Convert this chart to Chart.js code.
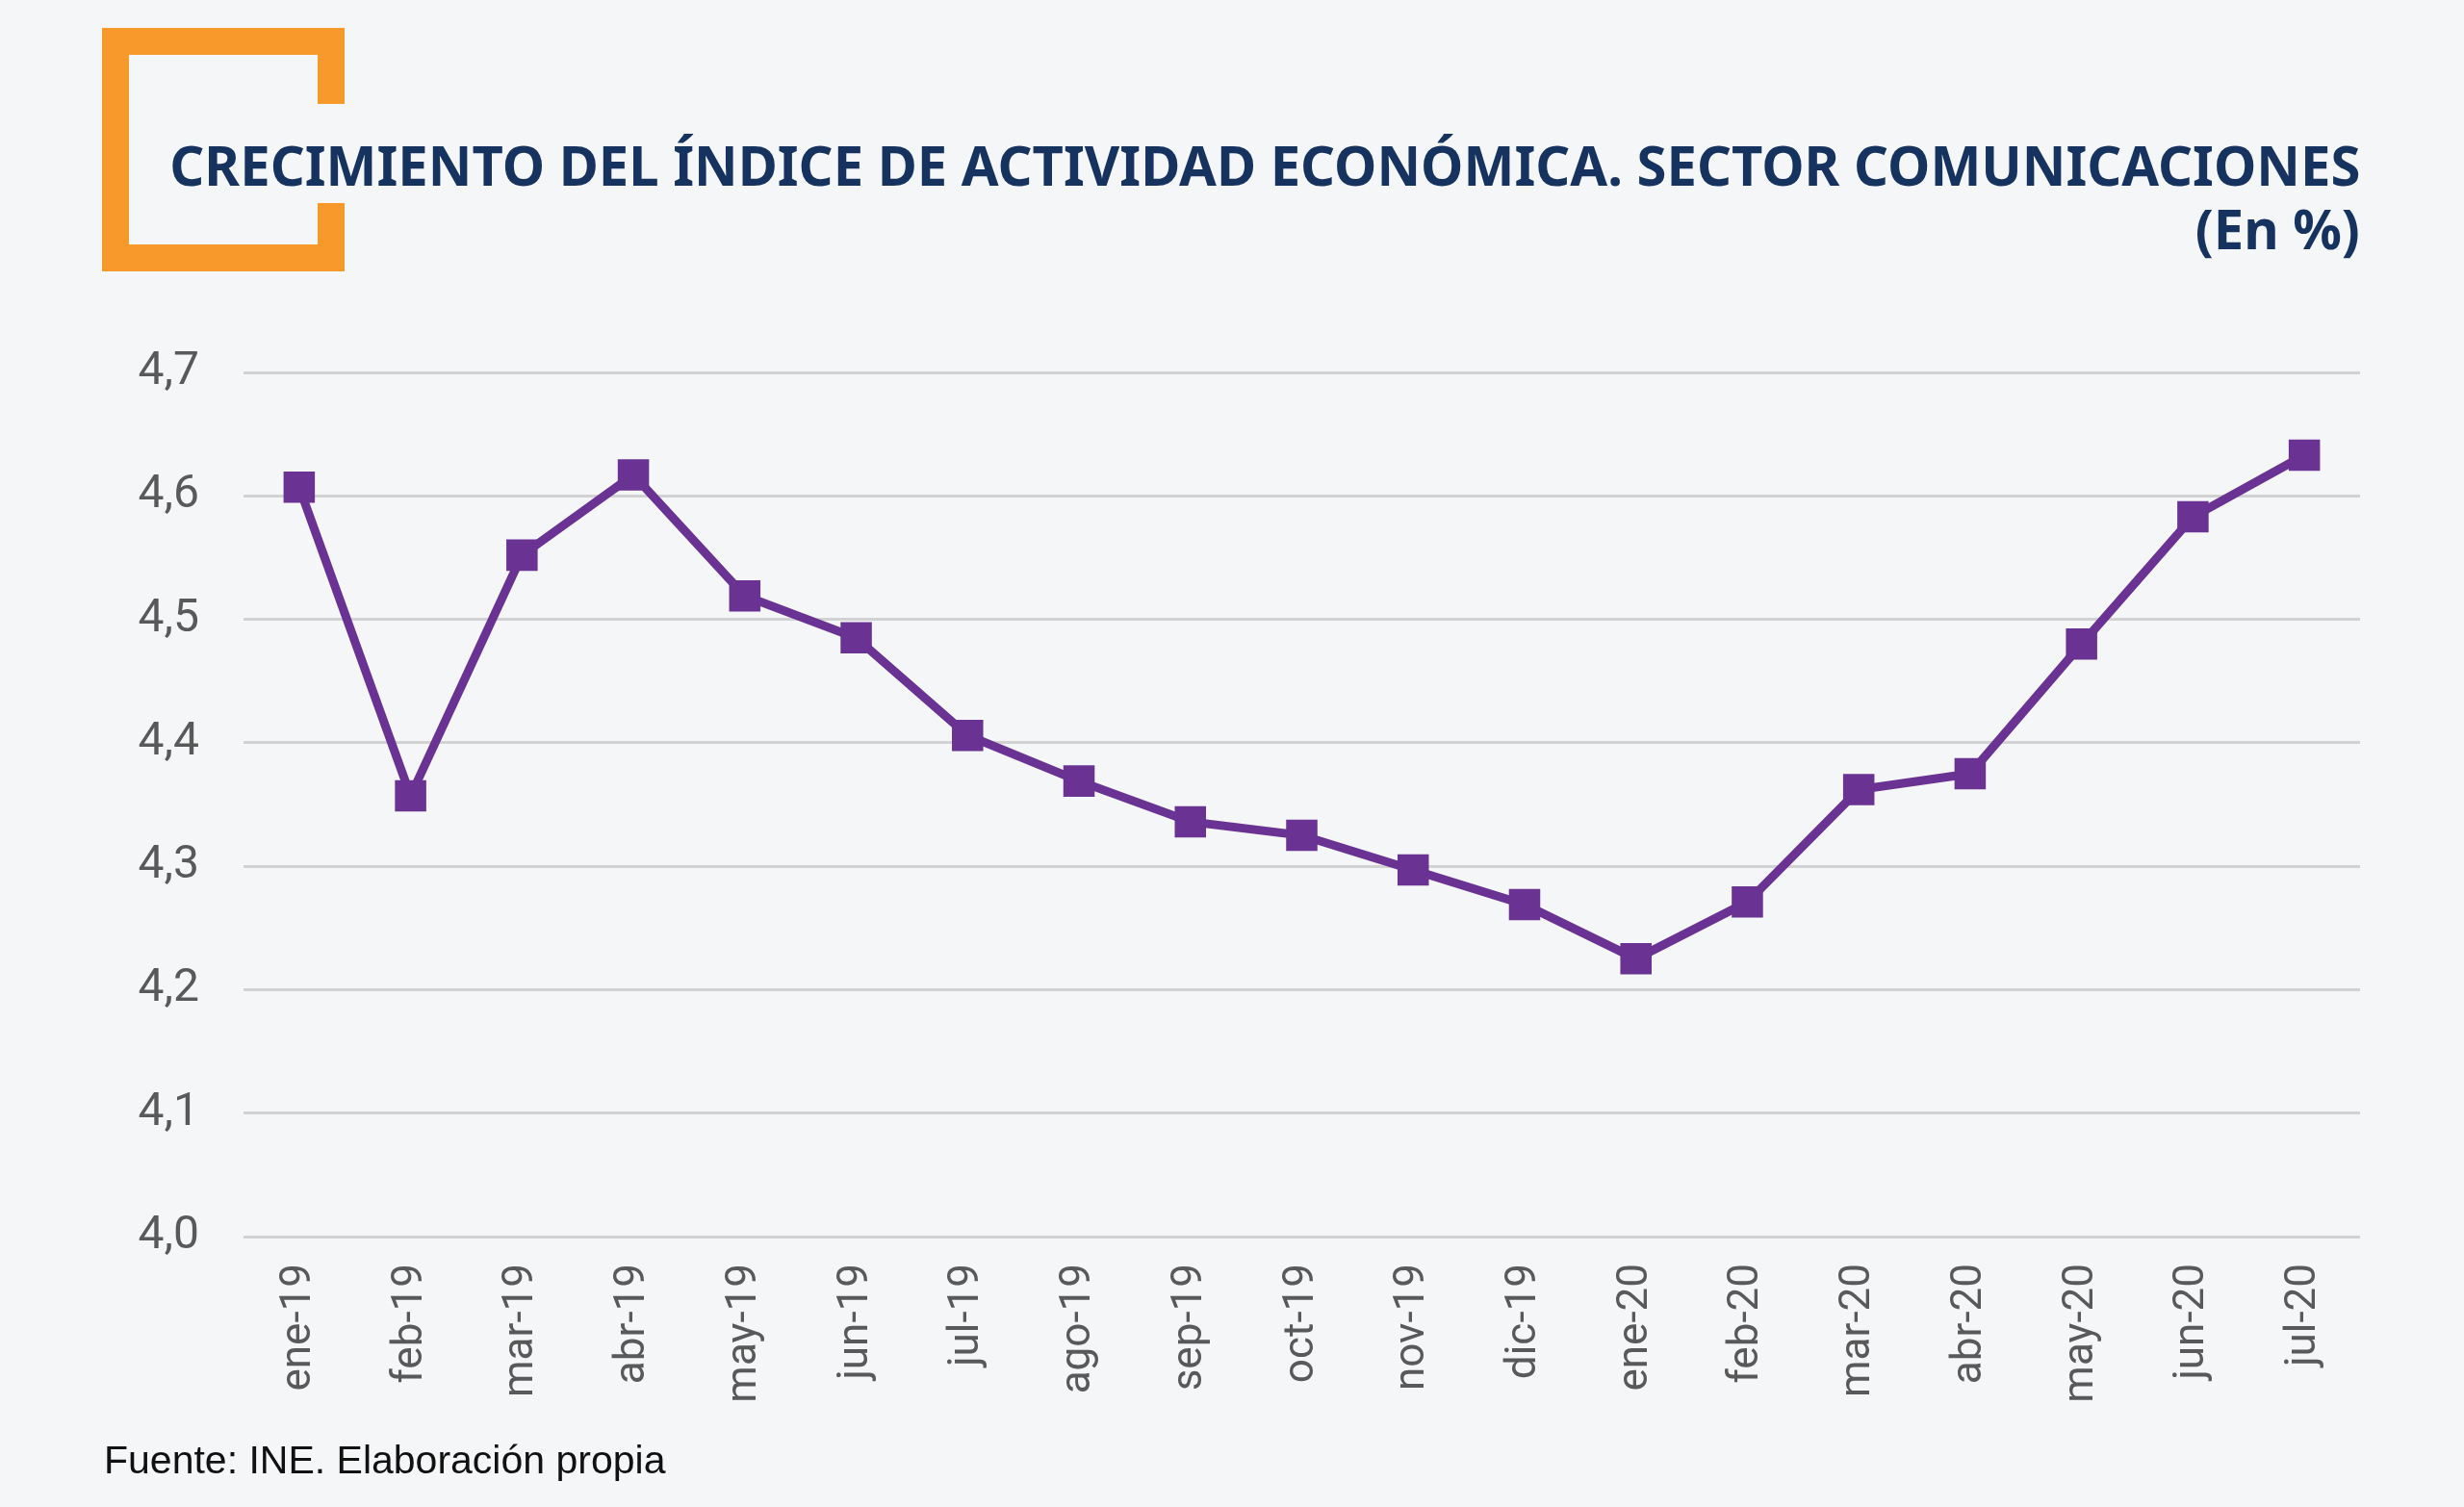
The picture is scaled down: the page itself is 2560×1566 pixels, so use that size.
<!DOCTYPE html>
<html lang="es">
<head>
<meta charset="utf-8">
<title>Crecimiento del índice de actividad económica</title>
<script src="https://cdn.jsdelivr.net/npm/chart.js@4.4.1/dist/chart.umd.min.js"></script>
<style>
  html, body { margin: 0; padding: 0; background: #f5f6f8; }
  #page { position: relative; width: 2560px; height: 1566px; overflow: hidden; background: #f5f6f8; }
  .bar { position: absolute; background: #f7992b; }
  .title {
    position: absolute; right: 108px; white-space: nowrap;
    font-family: "Noto Sans", "Open Sans", sans-serif; font-weight: 700;
    color: #16335f; font-size: 58px; line-height: 58px;
    transform-origin: right center;
  }
  #t1 { top: 142px; }
  #t2 { top: 208px; }
  #fuente {
    position: absolute; left: 108px; top: 1494px;
    font-family: "Liberation Sans", Arial, sans-serif; font-size: 41px; color: #111;
  }
  #chartBox { position: absolute; left: 0; top: 0; width: 2560px; height: 1566px; }
</style>
</head>
<body>
<div id="page">
  <!-- marco naranja -->
  <div class="bar" style="left:106px;top:29px;width:28px;height:253px"></div>
  <div class="bar" style="left:106px;top:29px;width:252px;height:28px"></div>
  <div class="bar" style="left:106px;top:254px;width:252px;height:28px"></div>
  <div class="bar" style="left:330px;top:29px;width:28px;height:79px"></div>
  <div class="bar" style="left:330px;top:211px;width:28px;height:71px"></div>

  <div class="title" id="t1">CRECIMIENTO DEL ÍNDICE DE ACTIVIDAD ECONÓMICA. SECTOR COMUNICACIONES</div>
  <div class="title" id="t2">(En %)</div>

  <div id="chartBox"><canvas id="grafico"></canvas></div>

  <div id="fuente">Fuente: INE. Elaboración propia</div>
</div>
<script>
// datos del gráfico
const meses = ['ene-19', 'feb-19', 'mar-19', 'abr-19', 'may-19', 'jun-19', 'jul-19', 'ago-19', 'sep-19', 'oct-19',
               'nov-19', 'dic-19', 'ene-20', 'feb-20', 'mar-20', 'abr-20', 'may-20', 'jun-20', 'jul-20'];
const crecimiento = [4.607, 4.357, 4.552, 4.617, 4.519, 4.485, 4.406, 4.369, 4.336, 4.325,
                     4.297, 4.269, 4.225, 4.271, 4.362, 4.375, 4.480, 4.583, 4.633];
const ejeMin = 4.0;
const ejeMax = 4.7;
const ejePaso = 0.1;

// ajustar el ancho del título
const t1 = document.getElementById('t1');
const anchoTitulo = 2276;
const w = t1.getBoundingClientRect().width;
t1.style.transform = 'scaleX(' + (anchoTitulo / w) + ')';
document.getElementById('t2').style.transform = 'scaleX(' + (anchoTitulo / w) + ')';

const morado = '#6a3293';
const gris = '#595959';

new Chart(document.getElementById('grafico'), {
  type: 'line',
  data: {
    labels: meses,
    datasets: [{
      data: crecimiento,
      borderColor: morado,
      backgroundColor: morado,
      borderWidth: 9,
      pointStyle: 'rect',
      pointRadius: 23,
      pointBorderWidth: 0,
      pointBackgroundColor: morado,
      tension: 0
    }]
  },
  options: {
    responsive: true,
    maintainAspectRatio: false,
    devicePixelRatio: 1,
    animation: false,
    layout: { padding: { top: 387, right: 108, bottom: 0, left: 0 } },
    plugins: {
      legend: { display: false },
      tooltip: { enabled: false }
    },
    scales: {
      x: {
        offset: true,
        grid: { display: false, drawTicks: false },
        border: { display: false },
        ticks: {
          color: gris,
          font: { family: 'Roboto', size: 44 },
          minRotation: 90,
          maxRotation: 90,
          padding: 28
        },
        afterFit: function(scale) { scale.height = 281; }
      },
      y: {
        min: ejeMin,
        max: ejeMax,
        grid: { color: '#d2d2d2', lineWidth: 3, drawTicks: false },
        border: { display: false },
        ticks: {
          stepSize: ejePaso,
          color: gris,
          font: { family: 'Roboto', size: 48 },
          padding: 46,
          callback: function(v) { return v.toFixed(1).replace('.', ','); }
        },
        afterFit: function(scale) { scale.width = 253; }
      }
    }
  }
});
</script>
</body>
</html>
